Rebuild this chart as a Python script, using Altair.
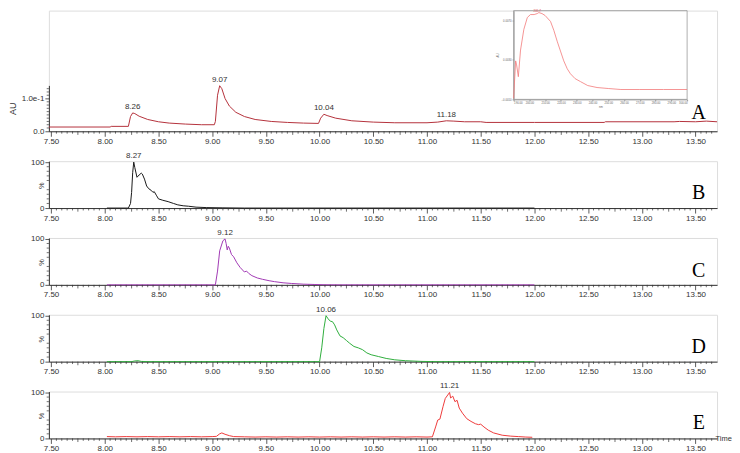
import altair as alt
import pandas as pd

# ---------------- data ----------------
X_DOMAIN = [7.48, 13.70]
W = 670

# Panel A: UV trace (AU)
a_t = [7.48, 8.05, 8.06, 8.22, 8.24, 8.26, 8.28, 8.32, 8.40, 8.50, 8.60, 8.75, 8.90, 9.02,
       9.03, 9.05, 9.07, 9.09, 9.12, 9.16, 9.22, 9.30, 9.40, 9.55, 9.70, 9.85, 9.99,
       10.01, 10.04, 10.07, 10.15, 10.30, 10.50, 10.70, 11.00, 11.10, 11.18, 11.25, 11.35,
       11.50, 11.55, 12.00, 12.65, 12.66, 13.30, 13.35, 13.50, 13.60, 13.70]
a_v = [0.013, 0.013, 0.015, 0.015, 0.045, 0.056, 0.054, 0.046, 0.036, 0.029, 0.025, 0.022, 0.020, 0.020,
       0.030, 0.110, 0.139, 0.130, 0.100, 0.077, 0.058, 0.045, 0.036, 0.030, 0.027, 0.025, 0.024,
       0.040, 0.052, 0.048, 0.040, 0.032, 0.028, 0.026, 0.026, 0.028, 0.032, 0.031, 0.029,
       0.029, 0.027, 0.027, 0.027, 0.029, 0.029, 0.030, 0.029, 0.031, 0.029]
a_peak_t = [8.26, 9.07, 10.04, 11.18]
a_peak_v = [0.056, 0.139, 0.052, 0.032]
a_peak_lbl = ["8.26", "9.07", "10.04", "11.18"]

# Panel B
b_t = [8.02, 8.22, 8.24, 8.25, 8.26, 8.27, 8.28, 8.30, 8.32, 8.34, 8.35, 8.37, 8.39, 8.41, 8.43,
       8.45, 8.46, 8.48, 8.50, 8.54, 8.59, 8.64, 8.68, 8.73, 8.78, 8.85, 8.95, 9.10, 9.30, 12.00]
b_v = [0, 0, 10, 34, 77, 100, 88, 67, 72, 76, 74, 63, 48, 42, 39,
       34, 36, 28, 20, 17, 14, 10, 7, 5, 4, 2, 1, 0.5, 0, 0]

# Panel C
c_t = [8.02, 9.03, 9.05, 9.07, 9.10, 9.12, 9.13, 9.14, 9.15, 9.16, 9.18, 9.20, 9.23, 9.26, 9.30,
       9.32, 9.34, 9.37, 9.42, 9.47, 9.53, 9.58, 9.66, 9.74, 9.85, 9.95, 10.05, 10.20, 12.00]
c_v = [0, 0, 30, 74, 96, 100, 90, 76, 84, 80, 66, 61, 48, 38, 28,
       30, 25, 20, 15, 12, 9, 7, 4.5, 3, 1.5, 0.8, 0.2, 0, 0]

# Panel D
d_t = [8.02, 8.25, 8.28, 8.31, 8.34, 8.40, 10.00, 10.02, 10.04, 10.06, 10.08, 10.10, 10.12, 10.14,
       10.16, 10.19, 10.22, 10.25, 10.28, 10.32, 10.36, 10.40, 10.44, 10.48, 10.55, 10.62, 10.70,
       10.80, 10.95, 11.10, 12.00]
d_v = [0, 0, 1.5, 2, 0.5, 0, 0, 30, 72, 100, 93, 88, 87, 80,
       69, 56, 52, 46, 40, 33, 30, 26, 19, 15, 11, 7, 4,
       2, 0.5, 0, 0]

# Panel E
e_t = [8.02, 8.10, 8.20, 8.30, 8.40, 8.50, 8.60, 8.70, 8.80, 8.90, 9.00, 9.04, 9.07, 9.09, 9.12,
       9.16, 9.20, 9.30, 9.40, 9.50, 9.60, 9.70, 9.80, 9.90, 10.00, 10.10, 10.20, 10.30, 10.40,
       10.50, 10.60, 10.70, 10.80, 10.90, 11.00, 11.05, 11.08, 11.10, 11.12, 11.15, 11.17, 11.21,
       11.22, 11.24, 11.26, 11.28, 11.30, 11.33, 11.37, 11.41, 11.45, 11.48, 11.50, 11.53, 11.57,
       11.62, 11.70, 11.78, 11.85, 11.92, 11.98]
e_v = [4, 3.5, 4, 3.5, 4, 3.5, 4, 3.5, 4, 3.5, 4, 4.5, 10, 12, 9,
       6, 4, 3.5, 3, 3.5, 3, 3.5, 3, 3.5, 3, 3.5, 3, 3.5, 3,
       3.5, 3, 3.5, 3, 3.5, 3, 3.5, 25, 40, 42, 70, 87, 100,
       88, 92, 80, 83, 66, 55, 43, 37, 32, 30, 31, 25, 18,
       12, 7, 5, 4, 3, 2.5]

peak_t = {"B": [8.27], "C": [9.12], "D": [10.06], "E": [11.21]}
peak_v = {"B": [100], "C": [100], "D": [100], "E": [100]}
peak_lbl = {"B": ["8.27"], "C": ["9.12"], "D": ["10.06"], "E": ["11.21"]}

letter_t = 13.53
letter_v = {"A": 0.055, "B": 32, "C": 30, "D": 32, "E": 34}

# Inset UV spectrum
uv_nm = [190.0, 191.3, 191.9, 193.0, 194.4, 196.5, 198.7, 200.7, 203.0, 205.0, 206.0, 208.0,
         210.0, 213.4, 215.5, 217.6, 219.7, 221.8, 224.0, 226.0, 229.0, 232.4, 237.0, 242.9,
         250.0, 258.0, 270.0, 285.0, 300.0]
uv_a = [-0.0009, 0.0029, 0.0025, 0.0013, 0.0040, 0.0061, 0.0073, 0.0076, 0.0076, 0.0077, 0.0078, 0.0077,
        0.0075, 0.0069, 0.0060, 0.0049, 0.0039, 0.0029, 0.0021, 0.0016, 0.0011, 0.0008, 0.0004, 0.0002,
        0.0001, 0.0000, 0.0000, 0.0000, 0.0000]
uv_peak_nm = [205.0]
uv_peak_a = [0.0078]
uv_peak_lbl = ["205.7"]
uv_x_ticks = [190, 200, 210, 220, 230, 240, 250, 260, 270, 280, 290, 300]
uv_y_ticks = [-0.001, 0.0, 0.001, 0.002, 0.003, 0.004, 0.005, 0.006, 0.007, 0.008]

colors = {"A": "#b5323c", "B": "#1a1a1a", "C": "#a23ab5", "D": "#2fae3d", "E": "#ee3b3b"}

# tick positions
x_major = [7.5, 8.0, 8.5, 9.0, 9.5, 10.0, 10.5, 11.0, 11.5, 12.0, 12.5, 13.0, 13.5]
x_mid = [7.75, 8.25, 8.75, 9.25, 9.75, 10.25, 10.75, 11.25, 11.75, 12.25, 12.75, 13.25]
x_minor = [round(7.5 + 0.05 * i, 2) for i in range(124) if i % 5 != 0]
yA_minor = [0.01, 0.02, 0.03, 0.04, 0.05, 0.06, 0.07, 0.08, 0.09, 0.11, 0.12, 0.13]
yP_minor = [10, 20, 30, 40, 60, 70, 80, 90]

AXC = "#333333"
FONT = "Liberation Sans"


def x_axis(title=False):
    kw = dict(values=x_major, format=".2f", tickSize=5, labelOverlap=False, labelFontSize=8,
              labelColor=AXC, labelFont=FONT, labelPadding=1, domainColor=AXC, tickColor=AXC,
              grid=False, domainWidth=1, tickWidth=0.8)
    if title:
        kw.update(title="Time", titleX=668, titleY=0, titleAlign="left", titleBaseline="middle",
                  titleFontSize=7.5, titleFontWeight="normal", titleColor=AXC, titleFont=FONT,
                  titleAngle=0)
    else:
        kw.update(title="")
    return alt.Axis(**kw)


def tick_layers(h, y_minor):
    """minor ticks drawn as rules through the scales"""
    dfm = pd.DataFrame({"t": [t for t in x_minor if t not in x_mid]})
    dfmid = pd.DataFrame({"t": x_mid})
    dfy = pd.DataFrame({"v": y_minor})
    r1 = alt.Chart(dfm).mark_rule(color=AXC, strokeWidth=0.7).encode(
        x="t:Q", y=alt.value(h), y2=alt.value(h + 2.4))
    r2 = alt.Chart(dfmid).mark_rule(color=AXC, strokeWidth=0.7).encode(
        x="t:Q", y=alt.value(h), y2=alt.value(h + 3.6))
    r3 = alt.Chart(dfy).mark_rule(color=AXC, strokeWidth=0.7).encode(
        y="v:Q", x=alt.value(0), x2=alt.value(-2.2))
    return [r1, r2, r3]


xscale = alt.Scale(domain=X_DOMAIN, nice=False, zero=False)

# ---------------- Panel A ----------------
A_H = 121
dfA = pd.DataFrame({"t": a_t, "v": a_v})
dfA_pk = pd.DataFrame({"t": a_peak_t, "v": a_peak_v, "lbl": a_peak_lbl})
dfA_let = pd.DataFrame({"t": [letter_t], "v": [letter_v["A"]], "lbl": ["A"]})

yscaleA = alt.Scale(domain=[0, 0.14], range=[A_H, 75], nice=False, zero=False)
yaxisA = alt.Axis(
    values=[0, 0.1],
    labelExpr="datum.value == 0 ? '0.0' : '1.0e-1'",
    tickSize=4, labelOverlap=False, labelFontSize=8, labelColor=AXC, labelFont=FONT,
    labelPadding=1, domainColor=AXC, tickColor=AXC, grid=False, tickWidth=0.8,
    title="AU", titleX=-36, titleY=98, titleAlign="center", titleBaseline="middle",
    titleFontSize=9, titleFontWeight="normal", titleColor=AXC, titleFont=FONT,
)

lineA = alt.Chart(dfA).mark_line(color=colors["A"], strokeWidth=1).encode(
    x=alt.X("t:Q", scale=xscale, axis=x_axis()),
    y=alt.Y("v:Q", scale=yscaleA, axis=yaxisA),
)
pkA = alt.Chart(dfA_pk).mark_text(dy=-6, fontSize=8, font=FONT, color=AXC).encode(
    x="t:Q", y="v:Q", text="lbl:N")
letA = alt.Chart(dfA_let).mark_text(fontSize=20, font="Liberation Serif", color="#000",
                                    baseline="middle").encode(x="t:Q", y="v:Q", text="lbl:N")
mainA = alt.layer(lineA, pkA, letA, *tick_layers(A_H, yA_minor))

# Inset
IN_X0, IN_X1, IN_H = 466, 640, 89
dfUV = pd.DataFrame({"nm": uv_nm, "a": uv_a})
dfUV_pk = pd.DataFrame({"nm": uv_peak_nm, "a": uv_peak_a, "lbl": uv_peak_lbl})
dfBox = pd.DataFrame({"nm": [190], "nm2": [300], "a": [-0.001], "a2": [0.008]})

xscaleUV = alt.Scale(domain=[190, 300], range=[IN_X0, IN_X1], nice=False, zero=False)
yscaleUV = alt.Scale(domain=[-0.001, 0.008], range=[IN_H, 0], nice=False, zero=False)
uvx_axis = alt.Axis(orient="bottom", offset=-(A_H - IN_H), values=uv_x_ticks, format=".2f",
                    labelFontSize=2.8, labelColor="#666", labelFont=FONT, tickSize=1.5,
                    labelPadding=1, domainColor="#999", tickColor="#999", grid=False,
                    labelOverlap=False, title="nm", titleFontSize=2.8, titleColor="#666",
                    titleFontWeight="normal", titlePadding=0.5)
uvy_axis = alt.Axis(orient="left", offset=-IN_X0, values=uv_y_ticks, format=".4f",
                    labelFontSize=2.8, labelColor="#666", labelFont=FONT, tickSize=1.5,
                    labelPadding=1, domainColor="#999", tickColor="#999", grid=False,
                    labelOverlap=False, title="AU", titleFontSize=2.8, titleColor="#666",
                    titleFontWeight="normal", titlePadding=1)

boxUV = alt.Chart(dfBox).mark_rect(fillOpacity=0, stroke="#9a9a9a", strokeWidth=0.8).encode(
    x=alt.X("nm:Q", scale=xscaleUV, axis=uvx_axis), x2="nm2:Q",
    y=alt.Y("a:Q", scale=yscaleUV, axis=uvy_axis), y2="a2:Q")
lineUV = alt.Chart(dfUV).mark_line(color="#f27a7a", strokeWidth=0.8).encode(
    x="nm:Q", y="a:Q")
pkUV = alt.Chart(dfUV_pk).mark_text(dy=-2, fontSize=3, font=FONT, color="#e05050").encode(
    x="nm:Q", y="a:Q", text="lbl:N")
inset = alt.layer(boxUV, lineUV, pkUV)

panelA = alt.layer(mainA, inset).resolve_scale(x="independent", y="independent").properties(
    width=W, height=A_H)

# ---------------- Panels B-E ----------------
P_H = 47
yaxisP = alt.Axis(
    values=[0, 50, 100],
    labelExpr="datum.value == 50 ? '' : datum.label",
    tickSize=4, labelOverlap=False, labelFontSize=8, labelColor=AXC, labelFont=FONT,
    labelPadding=1, domainColor=AXC, tickColor=AXC, grid=False, tickWidth=0.8,
    title="%", titleX=-7, titleY=P_H - 23, titleAngle=270, titleAlign="center",
    titleBaseline="middle", titleFontSize=7.5, titleFontWeight="normal", titleColor=AXC,
    titleFont=FONT,
)
yscaleP = alt.Scale(domain=[0, 102], nice=False, zero=False)

series = {"B": (b_t, b_v), "C": (c_t, c_v), "D": (d_t, d_v), "E": (e_t, e_v)}
panels = [panelA]
for key in ["B", "C", "D", "E"]:
    tt, vv = series[key]
    df = pd.DataFrame({"t": tt, "v": vv})
    dfp = pd.DataFrame({"t": peak_t[key], "v": peak_v[key], "lbl": peak_lbl[key]})
    dfl = pd.DataFrame({"t": [letter_t], "v": [letter_v[key]], "lbl": [key]})
    ln = alt.Chart(df).mark_line(color=colors[key], strokeWidth=1).encode(
        x=alt.X("t:Q", scale=xscale, axis=x_axis(title=(key == "E"))),
        y=alt.Y("v:Q", scale=yscaleP, axis=yaxisP),
    )
    pk = alt.Chart(dfp).mark_text(dy=-6, fontSize=8, font=FONT, color=AXC).encode(
        x="t:Q", y="v:Q", text="lbl:N")
    lt = alt.Chart(dfl).mark_text(fontSize=20, font="Liberation Serif", color="#000",
                                  baseline="middle").encode(x="t:Q", y="v:Q", text="lbl:N")
    panels.append(alt.layer(ln, pk, lt, *tick_layers(P_H, yP_minor)).properties(
        width=W, height=P_H))

chart = alt.vconcat(*panels, spacing=30, bounds="flush").resolve_scale(
    x="independent", y="independent"
).properties(
    padding={"left": 0, "top": 0, "right": 0, "bottom": 0}
).configure_view(strokeWidth=0).configure(background="white")

chart.save("out.html", embed_options={"renderer": "svg", "actions": False})
